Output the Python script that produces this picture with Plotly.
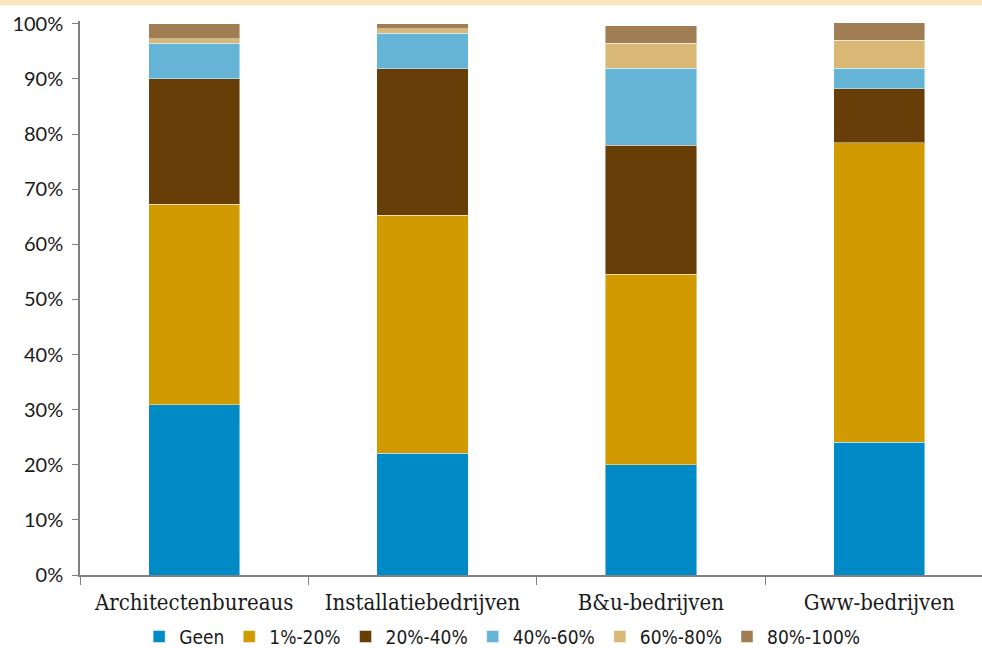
import plotly.graph_objects as go

categories = ["Architectenbureaus", "Installatiebedrijven", "B&u-bedrijven", "Gww-bedrijven"]
series_names = ["Geen", "1%-20%", "20%-40%", "40%-60%", "60%-80%", "80%-100%"]

geen = [30.9, 22.1, 20.0, 24.1]
p1_20 = [36.4, 43.2, 34.6, 54.3]
p20_40 = [22.7, 26.5, 23.4, 9.8]
p40_60 = [6.5, 6.5, 13.9, 3.7]
p60_80 = [0.8, 0.8, 4.6, 5.1]
p80_100 = [2.7, 0.9, 3.1, 3.2]

series_values = [geen, p1_20, p20_40, p40_60, p60_80, p80_100]
colors = ["#008BC6", "#D09A00", "#673D08", "#65B4D5", "#D9B775", "#A07D53"]

y_ticks = list(range(0, 101, 10))
y_tick_labels = [f"{v}%" for v in y_ticks]

fig = go.Figure()
for name, vals, col in zip(series_names, series_values, colors):
    fig.add_trace(go.Bar(
        x=categories, y=vals, name=name,
        marker=dict(color=col, line=dict(color="rgba(255,255,255,0.45)", width=1)),
        width=0.4,
    ))

fig.update_layout(
    barmode="stack",
    width=982, height=648,
    margin=dict(l=80, r=0, t=21, b=73, autoexpand=False),
    paper_bgcolor="white", plot_bgcolor="white",
    showlegend=True,
    legend=dict(
        orientation="h", x=0.468, xanchor="center", y=-0.077, yanchor="top",
        font=dict(family="DejaVu Sans Condensed", size=19, color="#1a1a1a"),
        traceorder="normal", itemwidth=30, tracegroupgap=0,
    ),
    xaxis=dict(
        range=[-0.5, 3.45],
        showline=True, linecolor="#808080", linewidth=1.5,
        ticks="outside", tickson="boundaries", ticklen=8, tickcolor="#808080", tickwidth=1,
        tickfont=dict(family="DejaVu Serif Condensed", size=22, color="#1a1a1a"),
        ticklabelstandoff=7,
        showgrid=False,
    ),
    yaxis=dict(
        range=[0, 100.5],
        tickvals=y_ticks, ticktext=y_tick_labels,
        showline=True, linecolor="#808080", linewidth=1.5,
        ticks="outside", ticklen=6, tickcolor="#808080", tickwidth=1,
        tickfont=dict(family="Lato", size=20, color="#1a1a1a"),
        ticklabelstandoff=5,
        showgrid=False, zeroline=False,
    ),
    shapes=[dict(
        type="rect", xref="paper", yref="paper",
        x0=-0.1, x1=1.1, y0=1 + 16 / 554, y1=1.1,
        fillcolor="#FBE5BD", line=dict(width=0), layer="above",
    )],
)

fig.write_html("out.html")
